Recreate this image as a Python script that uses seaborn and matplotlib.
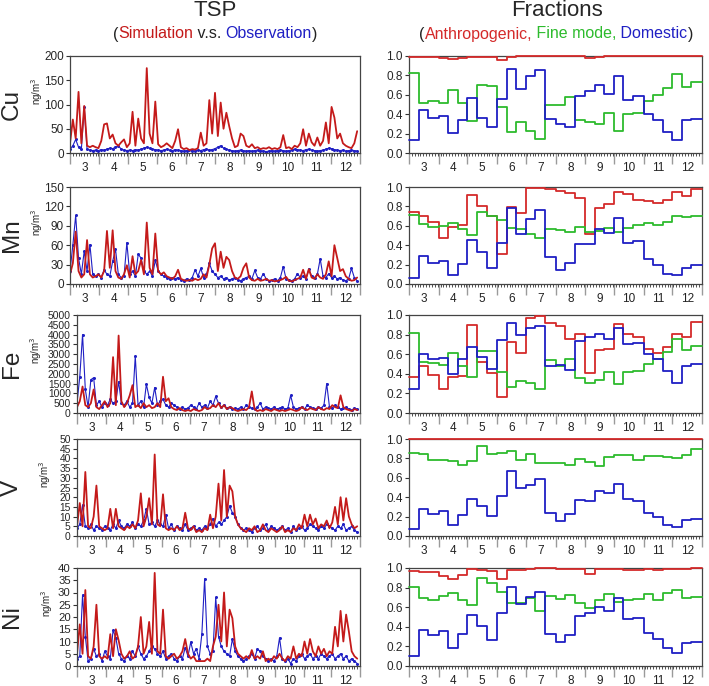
import numpy as np
import matplotlib
matplotlib.use('Agg')
import matplotlib.pyplot as plt
import seaborn as sns
from matplotlib.offsetbox import TextArea, HPacker, AnchoredOffsetbox

# ---- datos: series cada 3 dias desde el 1 de marzo (TSP, ng/m3) ----
cu_sim = [20, 69, 30, 126, 20, 97, 15, 12, 15, 12,
          10, 25, 59, 61, 30, 38, 20, 15, 22, 28,
          12, 20, 85, 15, 71, 30, 20, 175, 40, 20,
          106, 18, 12, 15, 20, 15, 10, 25, 49, 12,
          8, 10, 6, 8, 7, 10, 42, 15, 20, 109,
          40, 124, 35, 104, 50, 83, 55, 30, 12, 15,
          40, 35, 15, 12, 18, 10, 12, 8, 10, 9,
          12, 8, 10, 8, 12, 37, 10, 12, 8, 15,
          12, 20, 49, 15, 40, 22, 15, 32, 15, 25,
          63, 20, 95, 73, 30, 40, 20, 15, 12, 10,
          20, 45]
cu_obs = [8, 15, 28, 12, 8, 94, 8, 6, 5, 6,
          5, 7, 6, 8, 10, 9, 12, 15, 8, 6,
          5, 6, 5, 7, 6, 8, 10, 12, 10, 8,
          7, 6, 5, 6, 8, 6, 5, 7, 6, 5,
          4, 5, 6, 5, 4, 6, 5, 7, 8, 6,
          7, 9, 12, 15, 10, 8, 6, 5, 4, 5,
          6, 5, 4, 5, 4, 5, 6, 5, 4, 3,
          4, 5, 4, 5, 6, 5, 4, 5, 6, 8,
          7, 6, 5, 7, 8, 6, 5, 4, 5, 6,
          8, 10, 9, 7, 6, 5, 6, 4, 5, 6,
          5, 4]
mn_sim = [15, 32, 81, 20, 10, 15, 68, 15, 10, 12,
          15, 10, 20, 82, 25, 83, 20, 10, 8, 15,
          29, 10, 43, 15, 20, 37, 15, 95, 25, 15,
          78, 20, 15, 18, 12, 10, 8, 12, 22, 8,
          6, 5, 6, 5, 8, 6, 8, 15, 10, 30,
          55, 63, 20, 50, 25, 42, 37, 20, 10, 8,
          12, 25, 32, 10, 6, 5, 8, 5, 6, 8,
          5, 6, 4, 5, 6, 8, 11, 5, 4, 6,
          8, 10, 22, 8, 23, 10, 8, 15, 10, 8,
          15, 35, 12, 60, 40, 20, 23, 12, 8, 5,
          6, 10]
mn_obs = [20, 60, 106, 40, 15, 51, 20, 61, 15, 12,
          15, 10, 22, 15, 12, 35, 54, 15, 10, 12,
          64, 15, 20, 12, 46, 40, 20, 15, 20, 12,
          37, 20, 15, 12, 10, 8, 10, 8, 10, 6,
          5, 8, 6, 10, 22, 12, 24, 10, 15, 32,
          20, 15, 10, 12, 8, 10, 6, 8, 10, 6,
          5, 8, 10, 12, 8, 21, 10, 8, 16, 8,
          5, 6, 8, 5, 10, 27, 8, 6, 5, 8,
          16, 10, 12, 8, 23, 12, 10, 15, 39, 12,
          10, 16, 10, 12, 8, 10, 6, 5, 8, 24,
          10, 5]
fe_sim = [300, 600, 1350, 400, 300, 500, 1200, 300, 200, 400,
          600, 300, 500, 2850, 400, 3950, 600, 300, 500, 900,
          1420, 300, 400, 250, 500, 300, 400, 250, 300, 500,
          300, 1850, 600, 750, 300, 200, 150, 250, 150, 100,
          150, 100, 200, 150, 100, 150, 300, 200, 250, 400,
          300, 500, 250, 400, 200, 300, 250, 150, 100, 150,
          200, 150, 300, 1100, 200, 100, 150, 100, 200, 150,
          100, 200, 150, 100, 150, 100, 150, 200, 150, 100,
          150, 300, 200, 150, 250, 200, 150, 300, 200, 150,
          250, 200, 400, 300, 250, 900, 300, 200, 150, 100,
          200, 150]
fe_obs = [500, 1850, 4000, 1200, 300, 1700, 1800, 400, 600, 300,
          500, 400, 700, 500, 600, 1600, 500, 400, 600, 300,
          500, 2900, 400, 600, 300, 1470, 800, 500, 1300, 400,
          600, 700, 400, 300, 500, 400, 300, 200, 300, 200,
          250, 400, 300, 200, 500, 300, 400, 250, 600, 400,
          850, 500, 300, 400, 250, 300, 200, 250, 200, 300,
          200, 400, 300, 250, 200, 300, 500, 200, 300, 250,
          200, 300, 200, 250, 300, 200, 250, 900, 300, 200,
          250, 300, 200, 400, 300, 250, 200, 300, 250, 400,
          1500, 300, 250, 400, 300, 200, 250, 300, 200, 150,
          250, 200]
v_sim = [5, 17, 5, 33, 5, 4, 10, 26, 5, 4,
         3, 4, 14, 4, 14, 5, 4, 3, 5, 4,
         6, 4, 8, 22, 5, 10, 19.5, 6, 42, 6,
         5, 21.5, 4, 3, 4, 3, 5, 3, 4, 12,
         4, 3, 5, 2, 3, 2, 4, 3, 11, 4,
         10, 27, 8, 34, 10, 26, 23, 10, 6, 4,
         3, 2, 4, 3, 5, 2, 3, 6, 3, 2,
         4, 3, 2, 3, 5, 2, 3, 2, 4, 3,
         6, 4, 11, 5, 11, 6, 9, 4, 6, 5,
         8, 4, 7, 15, 6, 20, 8, 19.5, 10, 6,
         4, 5]
v_obs = [4, 6, 16, 5, 4, 6, 3, 5, 4, 3,
         5, 4, 3, 6, 4, 8, 5, 4, 6, 5,
         7, 4, 6, 5, 8, 14, 6, 7, 5, 8,
         6, 5, 11, 4, 6, 3, 5, 4, 3, 6,
         3, 4, 5, 3, 4, 3, 5, 4, 6, 9,
         5, 7, 6, 8, 10, 15.5, 12, 10, 6, 4,
         3, 4, 3, 2, 4, 5, 3, 4, 6, 3,
         5, 4, 3, 4, 5, 3, 4, 2, 5, 3,
         4, 5, 3, 4, 6, 5, 4, 3, 5, 4,
         6, 5, 4, 3, 5, 4, 6, 3, 4, 5,
         3, 2]
ni_sim = [5, 17, 5, 31, 4, 3, 8, 25, 4, 3,
          4, 3, 13, 4, 15, 10.5, 5, 3, 4, 6,
          3, 4, 8, 20, 5, 8, 18, 5, 38, 6,
          5, 23, 4, 3, 4, 5, 3, 4, 6, 11,
          5, 3, 4, 2, 2, 2, 2, 3, 2, 8,
          12, 25, 10, 30, 8, 23, 19.5, 8, 5, 4,
          3, 4, 3, 6.5, 3, 4, 3, 6, 2, 3,
          2, 4, 3, 5, 3, 2, 4, 3, 8, 3,
          5, 4, 10, 5, 11, 6, 4, 8, 5, 7,
          4, 6, 5, 16, 8, 22.5, 10, 21, 14, 6,
          4, 3]
ni_obs = [3, 4, 29, 12, 2, 3, 7, 4, 5, 2,
          6, 4, 3, 14.6, 11.5, 5, 3, 2, 4, 3,
          6, 4, 8, 5, 3, 4, 6, 8, 7, 5,
          4, 6, 3, 4, 5, 3, 2, 4, 3, 7.5,
          4, 9.8, 5, 7, 3, 13, 35.6, 8, 5, 6,
          28, 12, 8, 6, 5, 4, 11, 6, 4, 3,
          2, 3, 4, 5, 3, 7, 6, 4, 3, 2,
          3, 2, 4, 11.5, 3, 2, 3, 1, 3, 2,
          4, 5, 3, 4, 5, 3, 4, 3, 5, 4,
          3, 4, 5, 3, 4, 5, 3, 4, 2, 3,
          2, 1]

# ---- fracciones por decada (30 decadas, marzo-diciembre) ----
cu_anth = [0.99, 0.99, 0.99, 0.98, 0.97, 0.98, 0.99, 0.99, 0.99, 0.96,
           0.99, 1.0, 1.0, 1.0, 1.0, 1.0, 1.0, 1.0, 0.98, 0.99,
           1.0, 1.0, 1.0, 1.0, 1.0, 1.0, 1.0, 1.0, 1.0, 1.0]
cu_fine = [0.82, 0.52, 0.54, 0.52, 0.65, 0.52, 0.33, 0.70, 0.69, 0.47,
           0.22, 0.32, 0.23, 0.14, 0.50, 0.49, 0.58, 0.34, 0.32, 0.30,
           0.41, 0.23, 0.40, 0.41, 0.54, 0.60, 0.67, 0.81, 0.68, 0.73]
cu_dom = [0.13, 0.44, 0.36, 0.38, 0.21, 0.34, 0.57, 0.36, 0.27, 0.56,
          0.87, 0.66, 0.79, 0.86, 0.35, 0.30, 0.27, 0.59, 0.64, 0.70,
          0.61, 0.79, 0.55, 0.59, 0.40, 0.34, 0.22, 0.13, 0.34, 0.35]
mn_anth = [0.74, 0.70, 0.64, 0.47, 0.59, 0.61, 0.92, 0.80, 0.70, 0.31,
           0.79, 0.73, 0.99, 0.985, 0.98, 0.96, 0.94, 0.89, 0.52, 0.78,
           0.82, 0.95, 0.93, 0.87, 0.86, 0.83, 0.87, 0.95, 0.91, 0.98]
mn_fine = [0.71, 0.62, 0.59, 0.60, 0.63, 0.57, 0.51, 0.74, 0.70, 0.66,
           0.58, 0.57, 0.52, 0.47, 0.57, 0.56, 0.54, 0.59, 0.54, 0.55,
           0.58, 0.54, 0.58, 0.61, 0.63, 0.61, 0.64, 0.70, 0.69, 0.70]
mn_dom = [0.06, 0.29, 0.22, 0.24, 0.09, 0.21, 0.45, 0.33, 0.17, 0.42,
          0.78, 0.52, 0.67, 0.76, 0.28, 0.14, 0.22, 0.41, 0.41, 0.57,
          0.53, 0.68, 0.42, 0.44, 0.26, 0.20, 0.10, 0.09, 0.16, 0.20]
fe_anth = [0.37, 0.48, 0.39, 0.24, 0.37, 0.38, 0.90, 0.52, 0.41, 0.16,
           0.72, 0.61, 0.97, 0.99, 0.92, 0.89, 0.75, 0.81, 0.41, 0.64,
           0.65, 0.91, 0.81, 0.78, 0.65, 0.61, 0.67, 0.81, 0.78, 0.93]
fe_fine = [0.82, 0.52, 0.51, 0.49, 0.61, 0.48, 0.37, 0.63, 0.63, 0.42,
           0.27, 0.33, 0.31, 0.25, 0.54, 0.48, 0.55, 0.36, 0.31, 0.34,
           0.42, 0.30, 0.42, 0.43, 0.50, 0.55, 0.62, 0.76, 0.64, 0.68]
fe_dom = [0.25, 0.60, 0.55, 0.56, 0.40, 0.55, 0.67, 0.57, 0.45, 0.74,
          0.92, 0.80, 0.87, 0.89, 0.48, 0.49, 0.44, 0.73, 0.78, 0.81,
          0.76, 0.87, 0.70, 0.71, 0.60, 0.55, 0.43, 0.31, 0.48, 0.50]
v_anth = [1.0] * 30
v_fine = [0.86, 0.85, 0.78, 0.78, 0.77, 0.73, 0.77, 0.93, 0.85, 0.86,
          0.88, 0.78, 0.85, 0.75, 0.75, 0.75, 0.73, 0.79, 0.76, 0.72,
          0.81, 0.84, 0.84, 0.78, 0.82, 0.82, 0.81, 0.80, 0.83, 0.90]
v_dom = [0.07, 0.28, 0.23, 0.26, 0.11, 0.22, 0.38, 0.31, 0.21, 0.41,
         0.67, 0.49, 0.53, 0.59, 0.24, 0.15, 0.23, 0.37, 0.36, 0.46,
         0.44, 0.54, 0.38, 0.36, 0.24, 0.20, 0.11, 0.09, 0.16, 0.18]
ni_anth = [0.97, 0.96, 0.96, 0.92, 0.89, 0.93, 0.99, 0.98, 0.97, 0.89,
           0.98, 0.98, 0.99, 1.0, 1.0, 0.99, 0.99, 0.99, 0.94, 0.99,
           0.99, 0.99, 0.98, 0.98, 0.99, 0.98, 0.99, 0.99, 0.99, 1.0]
ni_fine = [0.81, 0.69, 0.67, 0.71, 0.75, 0.67, 0.62, 0.90, 0.85, 0.76,
           0.64, 0.64, 0.69, 0.56, 0.71, 0.68, 0.72, 0.64, 0.59, 0.67,
           0.73, 0.65, 0.67, 0.68, 0.73, 0.67, 0.74, 0.78, 0.69, 0.70]
ni_dom = [0.10, 0.37, 0.32, 0.36, 0.18, 0.33, 0.52, 0.41, 0.27, 0.54,
          0.81, 0.63, 0.70, 0.76, 0.33, 0.25, 0.32, 0.51, 0.54, 0.60,
          0.56, 0.69, 0.48, 0.49, 0.34, 0.28, 0.18, 0.13, 0.23, 0.25]

elementos = ['Cu', 'Mn', 'Fe', 'V', 'Ni']
y_max = [200, 150, 5000, 50, 40]
y_paso = [50, 30, 500, 5, 5]
meses = ['3', '4', '5', '6', '7', '8', '9', '10', '11', '12']
inicio_mes = [0, 31, 61, 92, 122, 153, 184, 214, 245, 275, 306]

sims = [cu_sim, mn_sim, fe_sim, v_sim, ni_sim]
obss = [cu_obs, mn_obs, fe_obs, v_obs, ni_obs]
anths = [cu_anth, mn_anth, fe_anth, v_anth, ni_anth]
fines = [cu_fine, mn_fine, fe_fine, v_fine, ni_fine]
doms = [cu_dom, mn_dom, fe_dom, v_dom, ni_dom]

ROJO = '#c41a1a'
ROJO2 = '#d42a2a'
VERDE = '#2dbb2d'
AZUL = '#1f1fc4'

sns.set_theme(style='ticks')
plt.rcParams['font.family'] = ['Liberation Sans', 'DejaVu Sans']

W, H = 709, 686
fig = plt.figure(figsize=(W / 100, H / 100), dpi=100)

# inicio de cada decada (dias desde el 1 de marzo)
decadas = [m + d for m in inicio_mes[:-1] for d in (0, 10, 20)] + [306]

# posiciones de paneles en pixeles (arriba, abajo)
filas = [(56, 153), (187, 284), (315, 413), (439, 536), (568, 666)]
izq_x0 = [70, 70, 77, 77, 77]
ng_x = [37, 37, 36, 45, 47]
tam_y = [8.5, 8.5, 7.4, 7.4, 8.2]


def estilo_eje(ax, tam=8.5):
    ax.set_xlim(0, 306)
    ax.set_xticks(inicio_mes)
    ax.set_xticklabels([])
    ax.set_xticks(np.arange(0, 306, 3), minor=True)
    ax.tick_params(axis='x', which='major', length=8, width=1.0, color='#9a9a9a')
    ax.tick_params(axis='x', which='minor', length=2, width=0.6, color='#333333')
    ax.tick_params(axis='y', which='major', length=3, width=0.8, labelsize=tam,
                   pad=1.5, color='#333333')
    for i, lab in enumerate(meses):
        ax.text((inicio_mes[i] + inicio_mes[i + 1]) / 2, -0.15, lab,
                transform=ax.get_xaxis_transform(), ha='center', va='center',
                fontsize=8.5, color='#222222')
    for s in ax.spines.values():
        s.set_color('#444444')
        s.set_linewidth(0.9)
    ax.set_xlabel('')
    ax.set_ylabel('')


for k, el in enumerate(elementos):
    top, bot = filas[k]
    b = 1 - bot / H
    h = (bot - top) / H

    # panel izquierdo: simulacion vs observacion
    ax = fig.add_axes([izq_x0[k] / W, b, (360 - izq_x0[k]) / W, h])
    dias_obs = np.arange(len(obss[k])) * 3
    dias_sim = np.arange(len(sims[k])) * 3
    sns.lineplot(x=dias_obs, y=obss[k], ax=ax, color=AZUL, linewidth=0.8,
                 marker='o', markersize=2.2, markeredgewidth=0)
    sns.lineplot(x=dias_sim, y=sims[k], ax=ax, color=ROJO, linewidth=1.3)
    ax.set_ylim(0, y_max[k])
    ax.set_yticks(np.arange(0, y_max[k] + y_paso[k], y_paso[k]))
    estilo_eje(ax, tam_y[k])

    fig.text(12 / W, 1 - (top + bot) / 2 / H, el, rotation=90, ha='center',
             va='center', fontsize=17.5)
    fig.text(ng_x[k] / W, 1 - (top + bot) / 2 / H + 0.02, 'ng/m$^3$', rotation=90,
             ha='center', va='center', fontsize=7)

    # panel derecho: fracciones
    ax2 = fig.add_axes([409 / W, b, (702 - 409) / W, h])
    for serie, col in [(anths[k], ROJO2), (fines[k], VERDE), (doms[k], AZUL)]:
        sns.lineplot(x=decadas, y=list(serie) + [serie[-1]], ax=ax2, color=col,
                     linewidth=1.3, drawstyle='steps-post', clip_on=False,
                     zorder=3)
    ax2.set_ylim(0, 1.0)
    ax2.set_yticks(np.arange(0, 1.01, 0.2))
    ax2.set_yticklabels(['%.1f' % v for v in np.arange(0, 1.01, 0.2)])
    estilo_eje(ax2)


def titulo_color(x, y, partes):
    cajas = [TextArea(t, textprops=dict(color=c, fontsize=11.5)) for t, c in partes]
    caja = HPacker(children=cajas, align='baseline', pad=0, sep=0)
    anc = AnchoredOffsetbox(loc='center', child=caja, pad=0, frameon=False,
                            bbox_to_anchor=(x, y), bbox_transform=fig.transFigure,
                            borderpad=0)
    fig.add_artist(anc)


fig.text(215 / W, 1 - 11 / H, 'TSP', ha='center', va='center', fontsize=16)
fig.text(557 / W, 1 - 11 / H, 'Fractions', ha='center', va='center', fontsize=16)
titulo_color(215 / W, 1 - 34 / H, [('(', '#222222'), ('Simulation', ROJO),
                                   (' v.s. ', '#222222'), ('Observation', AZUL),
                                   (')', '#222222')])
titulo_color(556 / W, 1 - 34 / H, [('(', '#222222'), ('Anthropogenic,', ROJO2),
                                   (' Fine mode,', VERDE), (' Domestic', AZUL),
                                   (')', '#222222')])

fig.savefig('out.png', dpi=100)
